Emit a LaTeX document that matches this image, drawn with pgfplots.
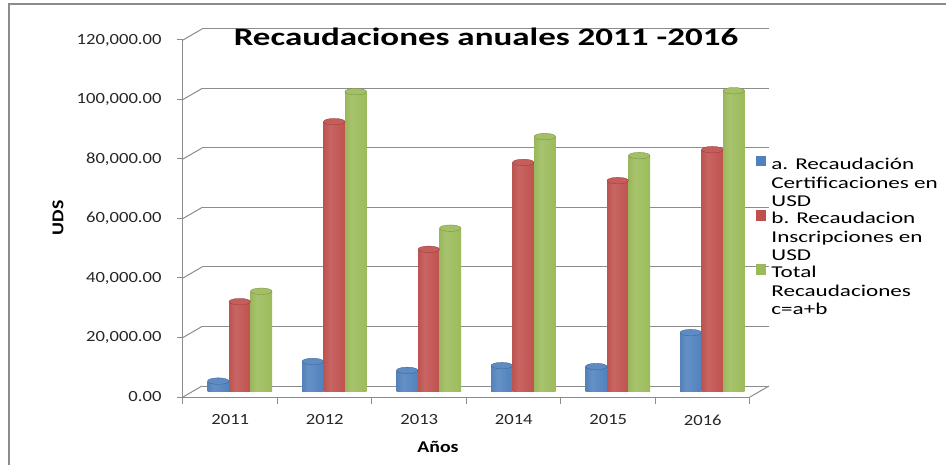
\documentclass[border=0pt]{standalone}
\usepackage{pgfplots}
\pgfplotsset{compat=1.18}
\usepackage{pgfplotstable}
\usetikzlibrary{shapes.geometric}
\usepackage{fontspec}
\setmainfont{Carlito}[FakeStretch=1.2]
\newfontfamily\widefont{Carlito}[FakeStretch=1.4]
\definecolor{cblue}{HTML}{4F81BD}
\definecolor{cred}{HTML}{C0504D}
\definecolor{cgreen}{HTML}{9BBB59}
\definecolor{axgray}{HTML}{8C8C8C}

\pgfdeclarehorizontalshading{shblue}{100bp}{color(0bp)=(cblue!60!black); color(18bp)=(cblue!95!black); color(40bp)=(cblue!88!white); color(78bp)=(cblue); color(100bp)=(cblue!60!black)}
\pgfdeclarehorizontalshading{shred}{100bp}{color(0bp)=(cred!60!black); color(18bp)=(cred!95!black); color(40bp)=(cred!88!white); color(78bp)=(cred); color(100bp)=(cred!60!black)}
\pgfdeclarehorizontalshading{shgreen}{100bp}{color(0bp)=(cgreen!60!black); color(18bp)=(cgreen!95!black); color(40bp)=(cgreen!88!white); color(78bp)=(cgreen); color(100bp)=(cgreen!60!black)}

\pgfplotstableread{
x a b c
0 3500 30200 33700
1 10100 90700 100800
2 7100 47800 54900
3 8700 77000 85700
4 8400 70900 79300
5 19800 81300 101100
}\datatable

\pgfplotsset{common/.style={scale only axis, width=567pt, height=357pt,
  xmin=-0.5, xmax=5.5, ymin=0, ymax=120000, anchor=south west},
  cyl/.style n args={3}{draw=none, shade, shading=#2, bar shift=#3, forget plot,
    nodes near coords={},
    every node near coord/.append style={ellipse, fill=#1!92!white, draw=#1!75!black,
      line width=0.3pt, minimum width=21.5pt, minimum height=6.5pt, inner sep=0pt, anchor=center}}}

\begin{document}
\begin{tikzpicture}
\useasboundingbox (0,0) rectangle (946pt,464pt);
\fill[white] (0,0) rectangle (946pt,464pt);
\draw[axgray, line width=1.5pt] (9pt,460pt) rectangle (960pt,-10pt);
% back wall
\begin{axis}[common, at={(202pt,78pt)}, axis line style={draw=none},
  ytick={0,20000,...,120000}, scaled y ticks=false, xtick=\empty, yticklabels={}, major tick length=0pt,
  ymajorgrids, grid style={axgray, line width=1pt}]
\end{axis}
% front axis
\begin{axis}[common, at={(183pt,67pt)},
  axis x line*=bottom, axis y line*=left,
  axis line style={-, axgray, line width=1pt},
  ytick={0,20000,...,120000}, scaled y ticks=false,
  yticklabel style={xshift=-12pt, /pgf/number format/.cd, fixed, fixed zerofill, precision=2, 1000 sep={,}, assume math mode=true},
  ticklabel style={font=\fontsize{15.5}{18}\selectfont, text=black!85},
  tick align=outside, major tick length=6pt, minor tick length=7pt,
  major y tick style={axgray, line width=1pt},
  xtick={0,...,5}, xticklabels={2011,2012,2013,2014,2015,2016},
  major x tick style={draw=none},
  minor xtick={-0.5,0.5,1.5,2.5,3.5,4.5,5.5},
  minor x tick style={axgray, line width=1pt},
  xticklabel style={yshift=-8pt},
  clip=false]
\pgfplotsinvokeforeach{0,20000,40000,60000,80000,100000,120000}{
  \draw[axgray, line width=1pt] (axis cs:-0.5,#1) -- ++(19pt,11pt);
}
\draw[axgray, line width=1pt] (axis cs:5.5,0) -- ++(19pt,11pt);
\end{axis}
% bars
\begin{axis}[common, at={(192.5pt,72.5pt)}, hide axis, ybar, bar width=21.5pt, clip=false,
  legend style={at={(0.993,0.66)}, anchor=north west, draw=none, fill=none,
    font=\widefont\fontsize{16.5}{18.5}\selectfont, align=left, row sep=0pt, column sep=4pt,
    inner sep=0pt, outer sep=0pt},
  legend cell align=left]
\pgfplotsinvokeforeach{0,...,5}{
  \addplot[cyl={cblue}{shblue}{-21.5pt}, restrict x to domain=#1:#1] table[x=x,y=a]{\datatable};
  \addplot[cyl={cred}{shred}{0pt}, restrict x to domain=#1:#1] table[x=x,y=b]{\datatable};
  \addplot[cyl={cgreen}{shgreen}{21.5pt}, restrict x to domain=#1:#1] table[x=x,y=c]{\datatable};
}
\addlegendimage{legend image code/.code={\fill[cblue] (0pt,17.5pt) rectangle (9.5pt,27pt);}}
\addlegendentry{a. Recaudación\\Certificaciones en\\USD}
\addlegendimage{legend image code/.code={\fill[cred] (0pt,17.5pt) rectangle (9.5pt,27pt);}}
\addlegendentry{b. Recaudacion\\Inscripciones en\\USD}
\addlegendimage{legend image code/.code={\fill[cgreen] (0pt,17.5pt) rectangle (9.5pt,27pt);}}
\addlegendentry{Total\\Recaudaciones\\c=a+b}
\end{axis}
\node[font=\widefont\bfseries\fontsize{25}{28}\selectfont] at (486pt,427pt) {Recaudaciones anuales 2011 -2016};
\node[font=\bfseries\fontsize{16.5}{19}\selectfont, rotate=90] at (58pt,246pt) {UDS};
\node[font=\bfseries\fontsize{16.5}{19}\selectfont] at (438pt,17pt) {Años};
\end{tikzpicture}
\end{document}
